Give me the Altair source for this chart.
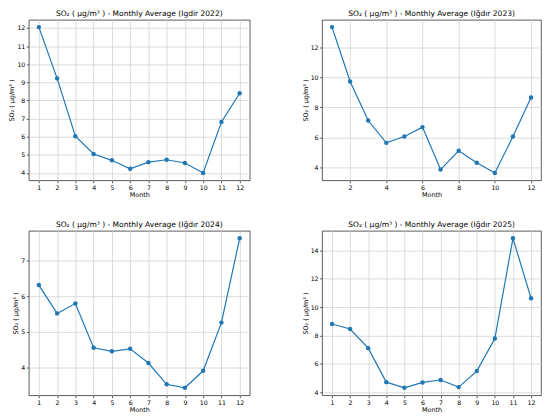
import altair as alt
import pandas as pd

months = list(range(1, 13))
so2_2022 = [12.05, 9.22, 6.03, 5.05, 4.70, 4.23, 4.60, 4.73, 4.55, 4.00, 6.82, 8.40]
so2_2023 = [13.35, 9.72, 7.12, 5.63, 6.05, 6.68, 3.85, 5.10, 4.30, 3.62, 6.05, 8.65]
so2_2024 = [6.32, 5.52, 5.80, 4.55, 4.45, 4.52, 4.12, 3.52, 3.42, 3.90, 5.26, 7.64]
so2_2025 = [8.80, 8.45, 7.10, 4.70, 4.30, 4.68, 4.85, 4.35, 5.48, 7.78, 14.85, 10.62]

titles = [
    "SO₂ ( μg/m³ ) - Monthly Average (Igdir 2022)",
    "SO₂ ( μg/m³ ) - Monthly Average (Iğdır 2023)",
    "SO₂ ( μg/m³ ) - Monthly Average (Iğdır 2024)",
    "SO₂ ( μg/m³ ) - Monthly Average (Iğdır 2025)",
]
y_label = "SO₂ ( μg/m³ )"
x_label = "Month"

yticks_2022 = [4, 5, 6, 7, 8, 9, 10, 11, 12]
yticks_2023 = [4, 6, 8, 10, 12]
yticks_2024 = [4, 5, 6, 7]
yticks_2025 = [4, 6, 8, 10, 12, 14]
xticks_all = months
xticks_2023 = [2, 4, 6, 8, 10, 12]

BLUE = "#1f77b4"
FONT = "DejaVu Sans"


def ydomain(vals):
    lo, hi = min(vals), max(vals)
    m = (hi - lo) * 0.05
    return [lo - m, hi + m]


def panel(vals, title, yticks, xticks, w, h):
    df = pd.DataFrame({"Month": months, "SO2": vals})
    return (
        alt.Chart(df, title=alt.TitleParams(
            text=title, font=FONT, fontSize=7.6, fontWeight="normal",
            color="black", offset=2))
        .mark_line(color=BLUE, strokeWidth=1.2,
                   point=alt.OverlayMarkDef(color=BLUE, size=20, filled=True, opacity=1))
        .encode(
            x=alt.X("Month:Q",
                    scale=alt.Scale(domain=[0.45, 12.55], nice=False, zero=False),
                    axis=alt.Axis(values=xticks, title=x_label, format="d", titlePadding=1)),
            y=alt.Y("SO2:Q",
                    scale=alt.Scale(domain=ydomain(vals), nice=False, zero=False),
                    axis=alt.Axis(values=yticks, title=y_label, format="d")),
        )
        .properties(width=w, height=h)
    )


p1 = panel(so2_2022, titles[0], yticks_2022, xticks_all, 223, 162)
p2 = panel(so2_2023, titles[1], yticks_2023, xticks_2023, 221, 162)
p3 = panel(so2_2024, titles[2], yticks_2024, xticks_all, 223, 166)
p4 = panel(so2_2025, titles[3], yticks_2025, xticks_all, 221, 166)

chart = (
    alt.concat(p1, p2, p3, p4, columns=2, spacing={"row": 51, "column": 73}, bounds="flush")
    .properties(padding=0, background="white")
    .configure_view(stroke="#333333", strokeWidth=0.8)
    .configure_axis(
        labelFont=FONT, labelFontSize=6.3, labelColor="black",
        titleFont=FONT, titleFontSize=6.5, titleFontWeight="normal", titleColor="black",
        grid=True, gridColor="#d3d3d3", gridWidth=0.8,
        domain=False, tickColor="#333333", tickSize=2.5, tickWidth=0.8,
        labelPadding=1.5, titlePadding=2,
    )
)

chart.save("out.html", embed_options={"renderer": "svg", "actions": False})
